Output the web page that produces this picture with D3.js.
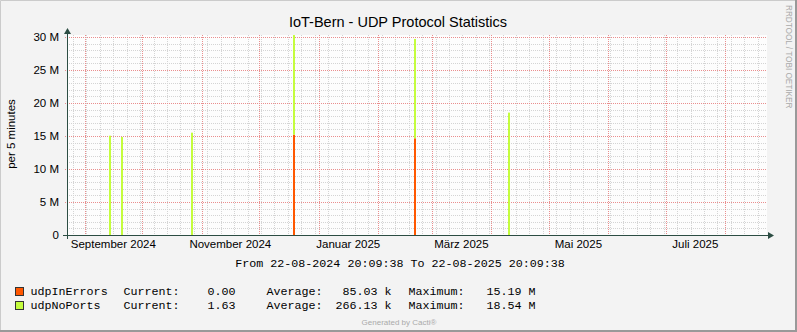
<!DOCTYPE html>
<html>
<head>
<meta charset="utf-8">
<script src="https://cdn.jsdelivr.net/npm/d3@7"></script>
<style>
  html, body { margin: 0; padding: 0; background: #F3F3F3; }
  svg { display: block; }
  .sans { font-family: "Liberation Sans", Arial, sans-serif; }
  .mono { font-family: "Liberation Mono", "Courier New", monospace; }
</style>
</head>
<body>
<svg id="chart" width="797" height="332"></svg>
<script>
// ---- data -------------------------------------------------------------
const title = "IoT-Bern - UDP Protocol Statistics";
const yLabel = "per 5 minutes";
const rangeStart = new Date(2024, 7, 22, 20, 9, 38);
const rangeEnd = new Date(2025, 7, 22, 20, 9, 38);
const rangeText = "From 22-08-2024 20:09:38 To 22-08-2025 20:09:38";

// daily samples that are not zero (values per 5 minutes)
const sampleDays = ["2024-09-14", "2024-09-20", "2024-10-27", "2024-12-19", "2025-02-20", "2025-04-10"];
const udpInErrors = [0, 0, 0, 15.19e6, 14.65e6, 0];
const udpNoPorts = [15.05e6, 14.85e6, 15.5e6, 15.1e6, 15.05e6, 18.54e6];

const seriesNames = ["udpInErrors", "udpNoPorts"];
const seriesColors = ["#FF5700", "#C4FD3D"];
const legendCurrent = ["0.00", "1.63"];
const legendAverage = ["85.03 k", "266.13 k"];
const legendMaximum = ["15.19 M", "18.54 M"];

const yTicks = [0, 5e6, 10e6, 15e6, 20e6, 25e6, 30e6];
const yTickLabels = ["0", "5 M", "10 M", "15 M", "20 M", "25 M", "30 M"];
const yMax = 30.3e6;

// ---- layout -----------------------------------------------------------
const W = 797, H = 332;
const plot = { left: 67, right: 767, top: 35, bottom: 235 };
const axisColor = "#2C4D43";

const svg = d3.select("#chart");

// background and shaded frame
svg.append("rect").attr("width", W).attr("height", H).attr("fill", "#F3F3F3");
svg.append("path").attr("d", `M0.5,${H} V0.5 H${W}`).attr("fill", "none").attr("stroke", "#CBCBCB").attr("stroke-width", 1);
svg.append("path").attr("d", `M0,${H - 1} H${W - 1} V0`).attr("fill", "none").attr("stroke", "#999999").attr("stroke-width", 2);

// scales
const x = d3.scaleTime().domain([rangeStart, rangeEnd]).range([plot.left, plot.right]);
const y = d3.scaleLinear().domain([0, yMax]).range([plot.bottom, plot.top]);

// canvas
svg.append("rect")
  .attr("x", plot.left).attr("y", plot.top)
  .attr("width", plot.right - plot.left).attr("height", plot.bottom - plot.top)
  .attr("fill", "#FDFDFD");

const grid = svg.append("g");

// minor grid: weeks and 1 M steps
const weeks = d3.timeMonday.range(rangeStart, rangeEnd);
grid.selectAll(".vminor").data(weeks).join("line")
  .attr("x1", d => Math.round(x(d)) + 0.5).attr("x2", d => Math.round(x(d)) + 0.5)
  .attr("y1", plot.top).attr("y2", plot.bottom)
  .attr("stroke", "#D4D4D4").attr("stroke-dasharray", "1,1");
const minorY = d3.range(1e6, yMax, 1e6).filter(v => v % 5e6 !== 0);
grid.selectAll(".hminor").data(minorY).join("line")
  .attr("x1", plot.left).attr("x2", plot.right)
  .attr("y1", d => Math.round(y(d)) + 0.5).attr("y2", d => Math.round(y(d)) + 0.5)
  .attr("stroke", "#D4D4D4").attr("stroke-dasharray", "1,1");

// major grid: months and 5 M steps
const months = d3.timeMonth.range(d3.timeMonth.ceil(rangeStart), rangeEnd);
grid.selectAll(".vmajor").data(months).join("line")
  .attr("x1", d => Math.round(x(d)) + 0.5).attr("x2", d => Math.round(x(d)) + 0.5)
  .attr("y1", plot.top).attr("y2", plot.bottom + 2)
  .attr("stroke", "#EA8E8E").attr("stroke-dasharray", "1,1");
grid.selectAll(".hmajor").data(yTicks.slice(1)).join("line")
  .attr("x1", plot.left - 2).attr("x2", plot.right)
  .attr("y1", d => Math.round(y(d)) + 0.5).attr("y2", d => Math.round(y(d)) + 0.5)
  .attr("stroke", "#EA8E8E").attr("stroke-dasharray", "1,1");

// stacked areas, one daily step per sample
const rows = sampleDays.map((s, i) => {
  const d = d3.timeParse("%Y-%m-%d")(s);
  return { date: d, udpInErrors: udpInErrors[i], udpNoPorts: udpNoPorts[i] };
});
const stacked = d3.stack().keys(seriesNames)(rows);
stacked.forEach((layer, li) => {
  svg.append("g").selectAll("rect").data(layer.filter(p => p[1] > p[0])).join("rect")
    .attr("x", p => Math.floor(x(p.data.date)))
    .attr("width", p => Math.ceil(x(d3.timeDay.offset(p.data.date, 1)) - x(p.data.date)))
    .attr("y", p => y(p[1]))
    .attr("height", p => y(p[0]) - y(p[1]))
    .attr("fill", seriesColors[li]);
});

// axes
const axes = svg.append("g");
axes.append("line").attr("x1", plot.left - 4).attr("x2", plot.right + 2)
  .attr("y1", plot.bottom + 0.5).attr("y2", plot.bottom + 0.5)
  .attr("stroke", axisColor).attr("stroke-width", 1);
axes.append("line").attr("x1", plot.left + 0.5).attr("x2", plot.left + 0.5)
  .attr("y1", plot.bottom + 4).attr("y2", plot.top - 2)
  .attr("stroke", axisColor).attr("stroke-width", 1);
axes.append("path").attr("d", `M${plot.right + 1},${plot.bottom - 3} L${plot.right + 7},${plot.bottom + 0.5} L${plot.right + 1},${plot.bottom + 4} Z`).attr("fill", axisColor);
axes.append("path").attr("d", `M${plot.left - 3},${plot.top - 1} L${plot.left + 0.5},${plot.top - 7} L${plot.left + 4},${plot.top - 1} Z`).attr("fill", axisColor);

// y tick labels
svg.append("g").selectAll("text").data(yTicks).join("text")
  .attr("class", "sans")
  .attr("x", plot.left - 8).attr("y", d => y(d) + 4)
  .attr("text-anchor", "end").attr("font-size", 11.5).attr("fill", "#000")
  .text((d, i) => yTickLabels[i]);

// x labels: every second month, centred within the month
const labelMonths = months.filter(m => m.getMonth() % 2 === 0);
const monthFmt = d3.timeFormatLocale({
  dateTime: "%A, der %e. %B %Y, %X", date: "%d.%m.%Y", time: "%H:%M:%S",
  periods: ["AM", "PM"],
  days: ["Sonntag", "Montag", "Dienstag", "Mittwoch", "Donnerstag", "Freitag", "Samstag"],
  shortDays: ["So", "Mo", "Di", "Mi", "Do", "Fr", "Sa"],
  months: ["Januar", "Februar", "März", "April", "Mai", "Juni", "Juli", "August", "September", "Oktober", "November", "Dezember"],
  shortMonths: ["Jan", "Feb", "Mrz", "Apr", "Mai", "Jun", "Jul", "Aug", "Sep", "Okt", "Nov", "Dez"]
}).format("%B %Y");
svg.append("g").selectAll("text").data(labelMonths).join("text")
  .attr("class", "sans")
  .attr("x", d => (x(d) + x(d3.timeMonth.offset(d, 1))) / 2)
  .attr("y", plot.bottom + 13)
  .attr("text-anchor", "middle").attr("font-size", 11.5).attr("fill", "#000")
  .text(d => monthFmt(d));

// title and side texts
svg.append("text").attr("class", "sans")
  .attr("x", 398).attr("y", 27).attr("text-anchor", "middle")
  .attr("font-size", 14.5).attr("fill", "#000").text(title);
svg.append("text").attr("class", "sans")
  .attr("transform", "translate(15,134) rotate(-90)").attr("text-anchor", "middle")
  .attr("font-size", 11.5).attr("fill", "#000").text(yLabel);
svg.append("text").attr("class", "sans")
  .attr("transform", "translate(786,5) rotate(90)").attr("text-anchor", "start")
  .attr("font-size", 8.2).attr("fill", "#AAAAAA").text("RRDTOOL / TOBI OETIKER");

// time range
svg.append("text").attr("class", "mono")
  .attr("x", 400).attr("y", 267).attr("text-anchor", "middle")
  .attr("font-size", 11.7).attr("fill", "#000")
  .text(rangeText);

// legend
const legend = svg.append("g");
seriesNames.forEach((name, i) => {
  const by = 295 + i * 14;
  legend.append("rect").attr("x", 15.5).attr("y", by - 7.5).attr("width", 8).attr("height", 8)
    .attr("fill", seriesColors[i]).attr("stroke", "#333").attr("stroke-width", 1);
  const t = (xx, s, anchor) => legend.append("text").attr("class", "mono")
    .attr("x", xx).attr("y", by).attr("text-anchor", anchor || "start")
    .attr("font-size", 11.7).attr("fill", "#000").text(s);
  t(30.5, name);
  t(123.5, "Current:");
  t(235.5, legendCurrent[i], "end");
  t(266.5, "Average:");
  t(391.5, legendAverage[i], "end");
  t(408.5, "Maximum:");
  t(535.5, legendMaximum[i], "end");
});

svg.append("text").attr("class", "sans")
  .attr("x", 399).attr("y", 325).attr("text-anchor", "middle")
  .attr("font-size", 8).attr("fill", "#AAAAAA").text("Generated by Cacti®");
</script>
</body>
</html>
